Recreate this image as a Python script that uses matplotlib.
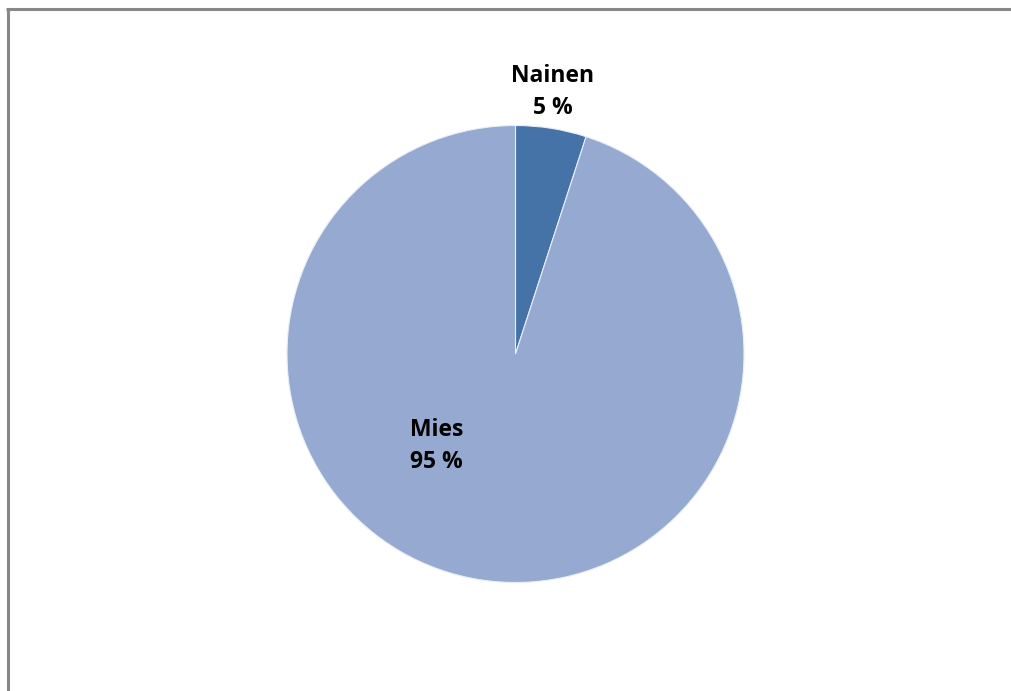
import matplotlib.pyplot as plt
from matplotlib.lines import Line2D

# Gender split
labels = ['Nainen', 'Mies']
shares = [5, 95]
colors = ['#4573a7', '#95a9d1']

W, H = 1011, 691
fig = plt.figure(figsize=(W / 100, H / 100), dpi=100)
fig.patch.set_facecolor('white')

# chart frame (runs off right and bottom edge)
fig.add_artist(Line2D([7.5 / W, 7.5 / W], [1 - 9 / H, -0.01], transform=fig.transFigure,
                      color='#878787', lw=2.2, solid_capstyle='butt'))
fig.add_artist(Line2D([6.4 / W, 1.01], [1 - 9 / H, 1 - 9 / H], transform=fig.transFigure,
                      color='#878787', lw=2.2, solid_capstyle='butt'))

cx, cy, r = 515.5, 354, 228.5
ax = fig.add_axes([(cx - r) / W, (H - cy - r) / H, 2 * r / W, 2 * r / H])
ax.pie(shares, colors=colors, startangle=90, counterclock=False,
       wedgeprops=dict(edgecolor='#e8eef7', linewidth=0.8))
ax.set_xlim(-1, 1)
ax.set_ylim(-1, 1)
ax.set_aspect('auto')
ax.axis('off')

font = dict(family='Open Sans', weight='bold', fontsize=16.5, color='black',
            ha='center', va='center', linespacing=1.42)
pos = [(0.162, 1.147), (-0.345, -0.402)]
for lab, val, (x, y) in zip(labels, shares, pos):
    ax.text(x, y, f'{lab}\n{val} %', **font)

fig.savefig('out.png', dpi=100, facecolor='white')
